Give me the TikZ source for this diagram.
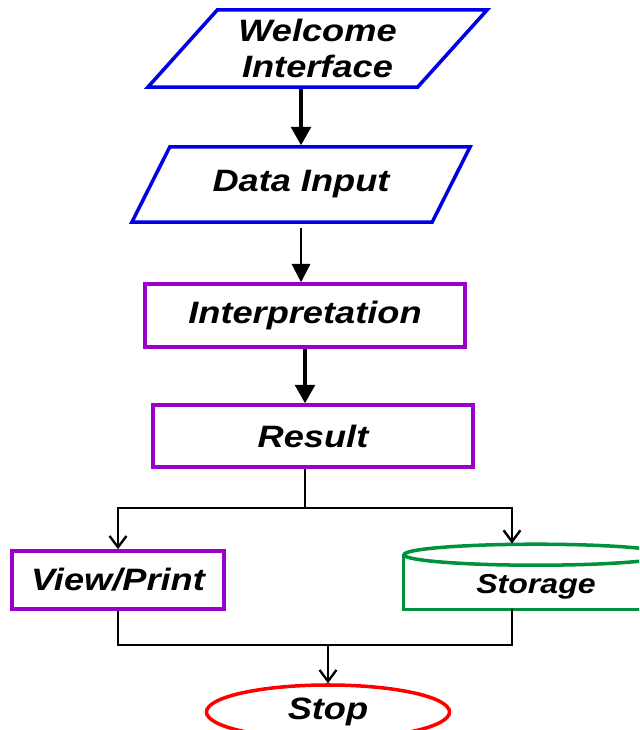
\documentclass[tikz,border=0pt]{standalone}
\usepackage{fontspec}
\setmainfont{Liberation Sans}[FakeStretch=1.17]
\usetikzlibrary{shapes.geometric,arrows.meta}

\definecolor{ioblue}{RGB}{0,0,230}
\definecolor{procpurple}{RGB}{153,0,204}
\definecolor{storegreen}{RGB}{0,145,60}

\begin{document}
\begin{tikzpicture}[
    x=0.025cm, y=-0.025cm,
    txt/.style={font=\bfseries\itshape\fontsize{22}{25}\selectfont},
    io/.style={trapezium, trapezium stretches body=true, draw=ioblue, line width=2.5pt, txt, align=center, inner sep=2pt},
    process/.style={rectangle, draw=procpurple, line width=2.5pt, txt, minimum width=8cm},
    store/.style={rectangle, draw=none, font=\bfseries\itshape\fontsize{19.5}{22}\selectfont, text height=20pt, text depth=4pt, minimum width=6.6cm, minimum height=1.35cm},
    terminal/.style={ellipse, draw=red, line width=2.5pt, txt, minimum width=6.075cm, minimum height=1.35cm},
    bigarrow/.style={line width=2.4pt, -{Triangle[width=14pt,length=13pt]}},
    midarrow/.style={line width=1.6pt, -{Triangle[width=13pt,length=13pt]}},
    branch/.style={line width=1.7pt, -{Straight Barb[width=12pt,length=8pt]}},
    link/.style={line width=1.7pt}
]
\useasboundingbox (0,0) rectangle (639,730);
\clip (0,0) rectangle (639,730);

% Input
\node[io, trapezium left angle=42.5, trapezium right angle=137.5, minimum width=8.475cm, minimum height=1.925cm] (welcome) at (317.5,48.5) {Welcome\\Interface};
\node[io, trapezium left angle=41.4, trapezium right angle=138.6, minimum width=8.45cm, minimum height=1.875cm] (datain) at (301,184.5) {Data Input};

% Processing
\node[process, minimum height=1.575cm] (interp) at (305,315.5) {Interpretation};
\node[process, minimum height=1.55cm] (result) at (313,436) {Result};

% Output
\node[process, minimum width=5.3cm, minimum height=1.45cm] (viewprint) at (118,580) {View/Print};
\node[store] (storage) at (536,582) {Storage};
\draw[storegreen, line width=2.5pt] (storage.north west) -- (storage.south west) -- (storage.south east) -- (storage.north east);
\draw[storegreen, line width=2.5pt, fill=white] (storage.north) ellipse [x radius=132, y radius=10.5];

% Stop
\node[terminal] (stop) at (328,712) {Stop};

% Arrows
\draw[bigarrow] (welcome.south -| datain.north) -- (datain.north);
\draw[midarrow, shorten <=3pt] (datain.south) -- (datain.south |- interp.north);
\draw[bigarrow] (interp.south) -- (interp.south |- result.north);
\coordinate (split) at (305,508);
\draw[link] (split |- result.south) -- (split);
\draw[branch] (split) -| (viewprint.north);
\draw[branch] (split) -| ([xshift=-0.6cm,yshift=0.28cm]storage.north);
\coordinate (merge) at (328,645);
\draw[link] (viewprint.south) |- (merge);
\draw[link] ([xshift=-0.6cm]storage.south) |- (merge);
\draw[branch] (merge) -- (stop.north);

\end{tikzpicture}
\end{document}
